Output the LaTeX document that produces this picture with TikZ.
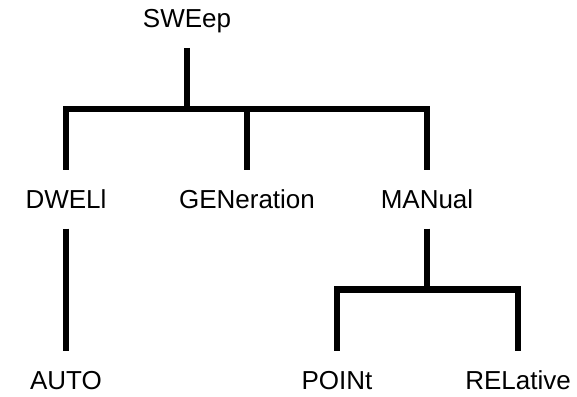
\documentclass[tikz,border=0pt]{standalone}
\usepackage{fontspec}
\setmainfont{Liberation Sans}
\usepackage{tikz}
\usetikzlibrary{positioning, calc}

\begin{document}
\begin{tikzpicture}[
    node distance=61pt,
    keyword/.style={
      inner sep=0pt,
      outer xsep=0pt,
      outer ysep=10pt,
      text height=9.4pt,
      text depth=0pt,
      font=\fontsize{13}{15}\selectfont
    },
    branch/.style={
      draw=black,
      line width=3.25pt,
      line join=miter
    }
  ]
    \useasboundingbox (-93.5pt,-188.75pt) rectangle (195pt,9.25pt);

    % Root
    \node (sweep) [keyword] {SWEep};

    % Level 2
    \node (dwell) [keyword, below=of sweep, xshift=-60.5pt] {DWELl};
    \node (generation) [keyword, below=of sweep, xshift=30pt] {GENeration};
    \node (manual) [keyword, below=of sweep, xshift=120pt] {MANual};

    % Level 3
    \node (auto) [keyword, below=of dwell] {AUTO};
    \node (point) [keyword, below=of manual, xshift=-45pt] {POINt};
    \node (relative) [keyword, below=of manual, xshift=45.5pt] {RELative};

    % Junctions
    \coordinate (bar1) at ($(sweep.south)!0.5!(generation.north)$);
    \coordinate (bar2) at ($(manual.south)!0.5!(point.north)$);

    % Connections
    \draw [branch] (sweep.south) -- (sweep.south |- bar1);
    \draw [branch] (dwell.north) |- (bar1) -| (manual.north);
    \draw [branch] (generation.north) -- (generation.north |- bar1);
    \draw [branch] (dwell.south) -- (auto.north);
    \draw [branch] (manual.south) -- (manual.south |- bar2);
    \draw [branch] (point.north) |- (bar2) -| (relative.north);

  \end{tikzpicture}
\end{document}
